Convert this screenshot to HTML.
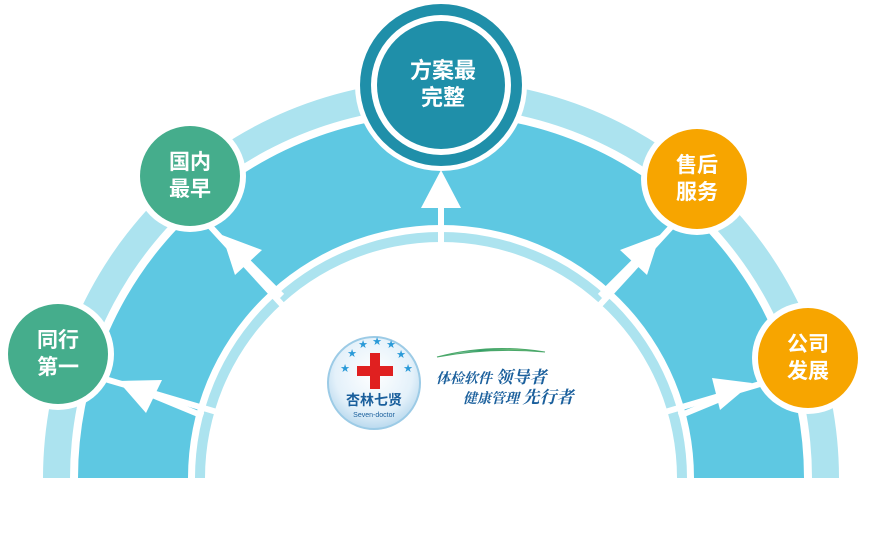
<!DOCTYPE html>
<html><head><meta charset="utf-8"><style>
html,body{margin:0;padding:0;background:#fff;width:869px;height:533px;overflow:hidden}
svg{display:block;position:absolute;left:0;top:0}
.t{font-family:"Liberation Sans","Noto Sans CJK SC",sans-serif;font-weight:bold;fill:#fff;text-anchor:middle}
</style></head><body>
<svg width="869" height="533" viewBox="0 0 869 533" xmlns="http://www.w3.org/2000/svg">
<defs>
<radialGradient id="lg" cx="50%" cy="40%" r="60%"><stop offset="0" stop-color="#ffffff"/><stop offset="0.7" stop-color="#e4f1fa"/><stop offset="1" stop-color="#b9d9ee"/></radialGradient>
<linearGradient id="sw" x1="0" x2="1"><stop offset="0" stop-color="#fff"/><stop offset="0.4" stop-color="#2a9a6a"/><stop offset="1" stop-color="#bde08a"/></linearGradient>
</defs>
<path d="M43,478 A398,398 0 0 1 839,478 L812,478 A371,371 0 0 0 70,478 Z" fill="#ace3ef"/>
<path d="M78,478 A363,363 0 0 1 804,478 L694,478 A253,253 0 0 0 188,478 Z" fill="#5ec8e2"/>
<path d="M195,478 A246,246 0 0 1 687,478 L677,478 A236,236 0 0 0 205,478 Z" fill="#ace3ef"/>
<g stroke="#fff" stroke-width="6">
<line x1="441" y1="478" x2="54" y2="364"/>
<line x1="441" y1="478" x2="175" y2="188"/>
<line x1="441" y1="478" x2="707" y2="188"/>
<line x1="441" y1="478" x2="828" y2="364"/>
</g>
<circle cx="441" cy="478" r="230" fill="#fff"/>
<g fill="#fff" stroke="#fff">
<line x1="203" y1="416" x2="145" y2="392" stroke-width="6"/>
<polygon points="118,381 162,380 146,413" stroke="none"/>
<line x1="282" y1="296" x2="240" y2="254" stroke-width="6"/>
<polygon points="222,235 262,250 235,275" stroke="none"/>
<line x1="441" y1="245" x2="441" y2="195" stroke-width="6"/>
<polygon points="441,170 421,208 461,208" stroke="none"/>
<line x1="600" y1="296" x2="642" y2="254" stroke-width="6"/>
<polygon points="660,235 620,250 647,275" stroke="none"/>
<line x1="679" y1="416" x2="737" y2="392" stroke-width="6"/>
<polygon points="752,383 712,378 720,410" stroke="none"/>
</g>
<circle cx="58" cy="354" r="56" fill="#fff"/><circle cx="58" cy="354" r="50" fill="#45ad8c"/>
<text class="t" x="58" y="347" font-size="21">同行</text><text class="t" x="58" y="374" font-size="21">第一</text>
<circle cx="190" cy="176" r="56" fill="#fff"/><circle cx="190" cy="176" r="50" fill="#45ad8c"/>
<text class="t" x="190" y="169" font-size="21">国内</text><text class="t" x="190" y="196" font-size="21">最早</text>
<circle cx="697" cy="179" r="56" fill="#fff"/><circle cx="697" cy="179" r="50" fill="#f7a500"/>
<text class="t" x="697" y="172" font-size="21">售后</text><text class="t" x="697" y="199" font-size="21">服务</text>
<circle cx="808" cy="358" r="56" fill="#fff"/><circle cx="808" cy="358" r="50" fill="#f7a500"/>
<text class="t" x="808" y="351" font-size="21">公司</text><text class="t" x="808" y="378" font-size="21">发展</text>
<circle cx="441" cy="85" r="86" fill="#fff"/>
<circle cx="441" cy="85" r="81" fill="#1f8fa9"/>
<circle cx="441" cy="85" r="70" fill="#fff"/>
<circle cx="441" cy="85" r="64" fill="#1f8fa9"/>
<text class="t" x="443" y="78" font-size="22">方案最</text><text class="t" x="443" y="105" font-size="22">完整</text>
<circle cx="374" cy="383" r="46" fill="url(#lg)" stroke="#9ccbe6" stroke-width="2"/>
<g fill="#2a9ad8" font-size="11" font-family="DejaVu Sans,sans-serif" text-anchor="middle">
<text x="345" y="372">★</text><text x="352" y="357">★</text><text x="363" y="348">★</text><text x="377" y="345">★</text><text x="391" y="348">★</text><text x="401" y="358">★</text><text x="408" y="372">★</text>
</g>
<rect x="370" y="353" width="10" height="36" fill="#e02020"/>
<rect x="357" y="366" width="36" height="10" fill="#e02020"/>
<text x="374" y="405" font-size="14" font-weight="bold" fill="#1a5f9c" text-anchor="middle" font-family="Liberation Sans,Noto Sans CJK SC,sans-serif">杏林七贤</text>
<text x="374" y="417" font-size="7" fill="#1a5f9c" text-anchor="middle" font-family="Liberation Sans,sans-serif">Seven-doctor</text>
<path d="M437,357 Q490,343 545,352 Q490,347 437,357 Z" fill="url(#sw)" stroke="#4aa86a" stroke-width="1"/>
<text x="436" y="383" font-size="14" fill="#1a5f9c" font-style="italic" font-weight="bold" font-family="Noto Serif CJK SC,serif">体检软件 <tspan font-size="17">领导者</tspan></text>
<text x="463" y="403" font-size="14" fill="#1a5f9c" font-style="italic" font-weight="bold" font-family="Noto Serif CJK SC,serif">健康管理 <tspan font-size="17">先行者</tspan></text>
</svg>
</body></html>
